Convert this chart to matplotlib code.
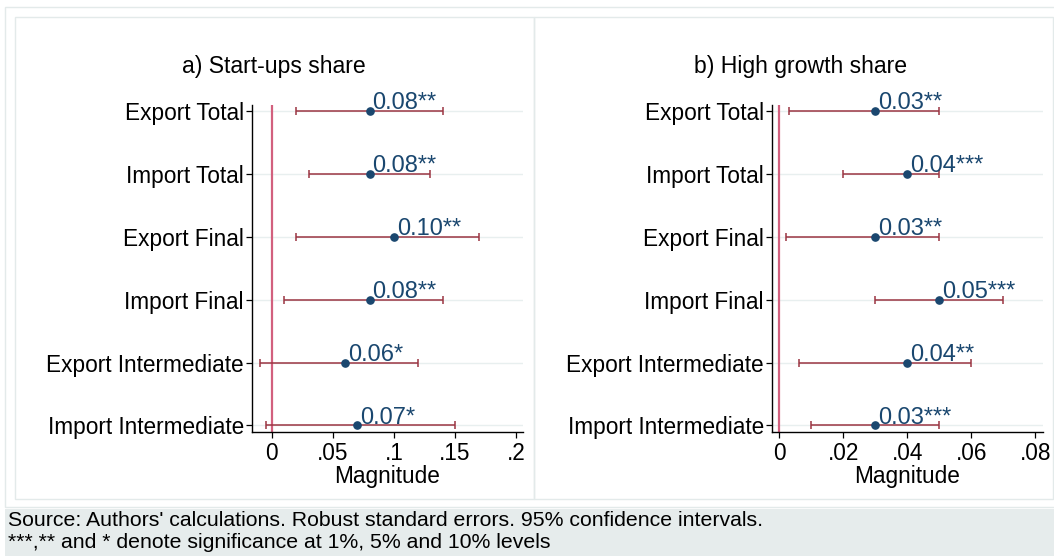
import matplotlib
matplotlib.use("Agg")
import matplotlib.pyplot as plt
from matplotlib.patches import Rectangle

plt.rcParams['font.family'] = ['Liberation Sans', 'DejaVu Sans']

categories = ["Export Total", "Import Total", "Export Final", "Import Final",
              "Export Intermediate", "Import Intermediate"]

a_title = "a) Start-ups share"
a_coef = [0.08, 0.08, 0.10, 0.08, 0.06, 0.07]
a_lo = [0.02, 0.03, 0.02, 0.01, -0.01, -0.005]
a_hi = [0.14, 0.13, 0.17, 0.14, 0.12, 0.15]
a_stars = ["**", "**", "**", "**", "*", "*"]
a_ticks = [0, 0.05, 0.10, 0.15, 0.20]
a_ticklabels = ["0", ".05", ".1", ".15", ".2"]

b_title = "b) High growth share"
b_coef = [0.03, 0.04, 0.03, 0.05, 0.04, 0.03]
b_lo = [0.003, 0.02, 0.002, 0.03, 0.006, 0.01]
b_hi = [0.05, 0.05, 0.05, 0.07, 0.06, 0.05]
b_stars = ["**", "***", "**", "***", "**", "***"]
b_ticks = [0, 0.02, 0.04, 0.06, 0.08]
b_ticklabels = ["0", ".02", ".04", ".06", ".08"]

xlabel = "Magnitude"
note_lines = ["Source: Authors' calculations. Robust standard errors. 95% confidence intervals.",
              "***,** and * denote significance at 1%, 5% and 10% levels"]

W, H = 1054, 556
fig = plt.figure(figsize=(W / 100, H / 100), dpi=100)
fig.patch.set_facecolor("white")

def fx(px):
    return px / W

def fy(py):
    return 1 - py / H

FRAME = "#e3eaea"
NAVY = "#1a476f"
MAROON = "#9b3542"
ZERO = "#d2607e"
GRID = "#e8efef"

# outer frame and panel boxes
fig.patches.append(Rectangle((fx(5), fy(507)), fx(1060 - 5), (507 - 7) / H,
                             transform=fig.transFigure, fill=False, ec=FRAME, lw=1, zorder=0))
fig.patches.append(Rectangle((fx(15), fy(499)), fx(534 - 15), (499 - 17) / H,
                             transform=fig.transFigure, fill=False, ec=FRAME, lw=1, zorder=0))
fig.patches.append(Rectangle((fx(534), fy(499)), fx(1053 - 534), (499 - 17) / H,
                             transform=fig.transFigure, fill=False, ec=FRAME, lw=1, zorder=0))
# note box
fig.patches.append(Rectangle((fx(5), 0), fx(W - 5), (556 - 509) / H,
                             transform=fig.transFigure, fc="#e6ecec", ec="none", zorder=0))
fig.text(fx(8), fy(521), note_lines[0], fontsize=15.3, va="center", ha="left", color="black")
fig.text(fx(8), fy(543), note_lines[1], fontsize=15.3, va="center", ha="left", color="black")

FS = 16.3
VFS = 17.0

def panel(left_px, xlim, coef, lo, hi, stars, ticks, ticklabels, title, title_cx):
    ax = fig.add_axes([fx(left_px), fy(432), fx(270.4), (432 - 104.7) / H])
    ax.set_facecolor("none")
    y = list(range(1, len(categories) + 1))
    ax.set_ylim(6.105, 0.895)
    ax.set_xlim(*xlim)
    for yy in y:
        ax.axhline(yy, color=GRID, lw=1, zorder=0)
    ax.axvline(0, color=ZERO, lw=1.6, zorder=1)
    err = [[c - l for c, l in zip(coef, lo)], [h - c for c, h in zip(coef, hi)]]
    ax.errorbar(coef, y, xerr=err, fmt="none", ecolor=MAROON, elinewidth=1.1,
                capsize=3, capthick=1.1, zorder=2)
    ax.plot(coef, y, "o", color=NAVY, ms=5.2, zorder=3)
    for c, yy, s in zip(coef, y, stars):
        ax.annotate(f"{c:.2f}{s}", (c, yy), xytext=(2, 1.3), textcoords="offset points",
                    ha="left", va="baseline", color=NAVY, fontsize=VFS, zorder=4)
    ax.set_yticks(y)
    ax.set_yticklabels(categories, fontsize=FS)
    ax.set_xticks(ticks)
    ax.set_xticklabels(ticklabels, fontsize=FS)
    ax.tick_params(axis="both", length=4, width=0.9, color="black", pad=2)
    ax.tick_params(axis="x", pad=3)
    for side in ("top", "right"):
        ax.spines[side].set_visible(False)
    for side in ("left", "bottom"):
        ax.spines[side].set_linewidth(1.0)
        ax.spines[side].set_color("black")
    ax.set_xlabel(xlabel, fontsize=FS, labelpad=0)
    fig.text(fx(title_cx), fy(66), title, fontsize=16.6, ha="center", va="center")
    return ax

panel(252.3, (-0.0161, 0.2056), a_coef, a_lo, a_hi, a_stars, a_ticks, a_ticklabels, a_title, 274)
panel(772.3, (-0.0022, 0.0823), b_coef, b_lo, b_hi, b_stars, b_ticks, b_ticklabels, b_title, 801)

fig.savefig("out.png", dpi=100, facecolor="white")
